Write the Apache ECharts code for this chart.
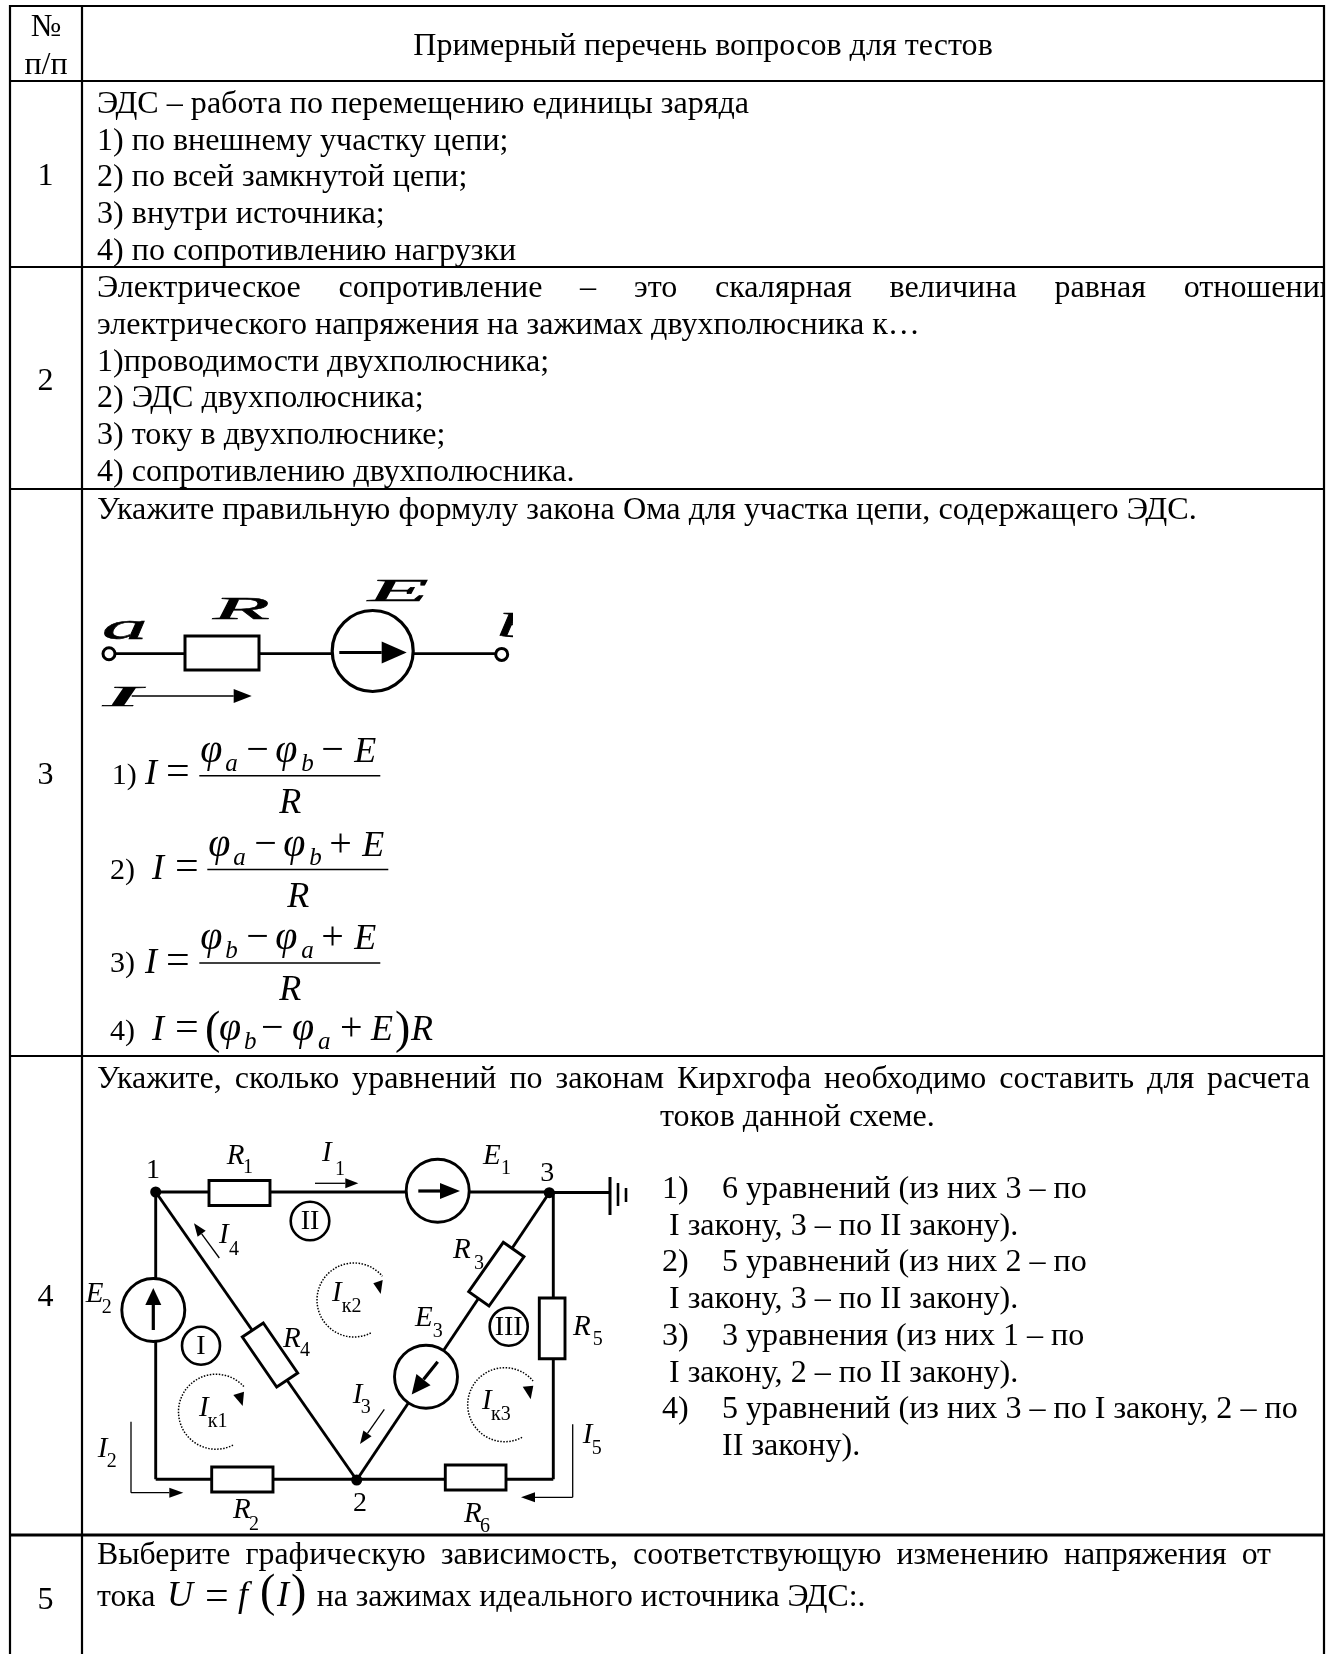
<!DOCTYPE html>
<html lang="ru">
<head>
<meta charset="UTF-8">
<title>Примерный перечень вопросов для тестов</title>
<script src="https://cdn.jsdelivr.net/npm/echarts@6/dist/echarts.min.js"></script>
<style>
html, body { margin: 0; padding: 0; background: #fff; }
#main { width: 1336px; height: 1654px; }
</style>
</head>
<body>
<div id="main"></div>
<script>
// table text
const headerNumber = ['№', 'п/п'];
const headerTitle = 'Примерный перечень вопросов для тестов';
const rowNumbers = ['1', '2', '3', '4', '5'];
const question1 = ['ЭДС – работа по перемещению единицы заряда', '1) по внешнему участку цепи;', '2) по всей замкнутой цепи;', '3) внутри источника;', '4) по сопротивлению нагрузки'];
const question2Head = 'Электрическое сопротивление – это скалярная величина равная отношению';
const question2 = ['электрического напряжения на зажимах двухполюсника к…', '1)проводимости двухполюсника;', '2) ЭДС двухполюсника;', '3) току в двухполюснике;', '4) сопротивлению двухполюсника.'];
const question3 = 'Укажите правильную формулу закона Ома для участка цепи, содержащего ЭДС.';
const question4Head = 'Укажите, сколько уравнений по законам Кирхгофа необходимо составить для расчета';
const question4Tail = 'токов данной схеме.';
const answers4 = [['1)', '6 уравнений (из них 3 – по'], ['', 'I закону, 3 – по II закону).'], ['2)', '5 уравнений (из них 2 – по'], ['', 'I закону, 3 – по II закону).'], ['3)', '3 уравнения (из них 1 – по'], ['', 'I закону, 2 – по II закону).'], ['4)', '5 уравнений (из них 3 – по I закону, 2 – по'], ['', 'II закону).']];
const question5Head = 'Выберите графическую зависимость, соответствующую изменению напряжения от';
const question5Start = 'тока';
const question5End = 'на зажимах идеального источника ЭДС:.';

// formula parts: first subscript, sign, second subscript, sign
const fractionParts = [['a', '−', 'b', '−'], ['a', '−', 'b', '+'], ['b', '−', 'a', '+']];

// table rules
const colEdges = [10, 82, 1324];
const rowEdges = [6, 81, 267, 489, 1056, 1535];
const pageBottom = 1654;

// row 3 schematic
const seriesWires = [[109, 653.7, 501.7, 653.7]];
const seriesResistor = [[185, 636, 259, 636, 259, 670, 185, 670]];
const seriesSource = [[372.7, 651, 40.5]];
const seriesTerminals = [[109, 653.7, 6], [501.7, 654.4, 6]];

// row 4 circuit
const circuitWires = [
  [155.7, 1192, 549.3, 1192], [549.3, 1192.5, 610, 1192.5], [155.7, 1192, 155.7, 1479.3], [155.7, 1479.3, 553.3, 1479.3],
  [553.3, 1192, 553.3, 1479.3], [155.7, 1192, 356.7, 1480], [356.7, 1480, 549.3, 1192.7]
];
const groundBars = [[610, 1177, 610, 1215, 3], [618, 1183, 618, 1206, 2.6], [626, 1188, 626, 1202, 2.6]];
const circuitResistors = [
  [209, 1180.5, 270, 1180.5, 270, 1205.5, 209, 1205.5],
  [211.7, 1467, 273, 1467, 273, 1492, 211.7, 1492],
  [445.3, 1465, 506, 1465, 506, 1490, 445.3, 1490],
  [539.3, 1298, 565, 1298, 565, 1358.7, 539.3, 1358.7],
  [263.3, 1323, 297.7, 1373, 276.7, 1387, 242.3, 1337],
  [503.3, 1242.3, 524, 1256.7, 489, 1306, 468.7, 1291.7]
];
const circuitSources = [[153.3, 1310, 31.5], [437.7, 1190.7, 31.5], [426, 1376.7, 31.5]];
const loopCircles = [[201, 1345.7, 19, 'I'], [310, 1221, 19.3, 'II'], [508.7, 1326.7, 19, 'III']];
const nodes = [[155.7, 1192], [356.7, 1480], [549.3, 1192.7]];
// x1, y1, x2, y2, line width, head length, head half width
const arrows = [
  [339.3, 652.5, 406.7, 652.5, 3.2, 25, 11], [131.7, 696, 251.7, 696, 1.5, 18, 7],
  [153.3, 1330, 153.3, 1288, 3.2, 17, 8], [418.3, 1191, 460, 1191, 3.2, 20, 8], [437.7, 1361.7, 411.7, 1394.5, 3.2, 19, 9],
  [315, 1183.3, 358.3, 1183.3, 1.3, 13, 5], [219.3, 1258, 194, 1223.3, 1.3, 13, 5], [384.3, 1409.3, 360, 1444, 1.3, 13, 5],
  [131, 1492.7, 183.3, 1492.7, 1.3, 14, 5], [572.7, 1497.3, 521, 1497.3, 1.3, 14, 5]
];
const thinLines = [[131, 1421.7, 131, 1492.7], [572.7, 1424.3, 572.7, 1497.3]];
// loop current arcs: cx, cy, r, start deg, end deg, then head tip and base points
const loopArcs = [
  [216, 1411.7, 37.5, 63, 320, 242.7, 1406, 233.3, 1395, 244, 1391.7],
  [354, 1300, 37, 63, 320, 380.7, 1294, 373.3, 1283.3, 382.7, 1280],
  [504.7, 1404.7, 37, 62, 320, 530.7, 1399.3, 522.7, 1386.7, 533.3, 1385.7]
];
// letter, subscript, x, baseline, subscript x, subscript baseline
const circuitLabels = [
  ['R', '1', 226.7, 1164, 243, 1172.7], ['I', '1', 322, 1160.7, 335, 1175], ['E', '1', 483, 1164, 501, 1174],
  ['I', '4', 219, 1242.7, 229, 1255], ['E', '2', 85.7, 1301.7, 101.7, 1312.7], ['R', '4', 283, 1346.7, 300, 1356],
  ['I', 'к1', 199, 1416, 207.7, 1427], ['I', 'к2', 332, 1300.7, 341.7, 1312], ['I', 'к3', 482, 1409, 491, 1420],
  ['I', '3', 352.7, 1402.7, 360.7, 1413], ['I', '2', 97.7, 1456.7, 106.7, 1467], ['I', '5', 582.7, 1442.7, 591.7, 1454],
  ['R', '2', 233, 1518, 249, 1530], ['R', '3', 453, 1258, 474, 1269], ['E', '3', 415, 1326, 432.7, 1336.7],
  ['R', '5', 573, 1335, 592.7, 1345], ['R', '6', 464, 1521.7, 480, 1531.7]
];
const nodeLabels = [['1', 153, 1178], ['2', 360, 1510.7], ['3', 547.3, 1180.7]];

const BODY = 32.1;
const LAST_ROW = 31.8;
const LEAD = 36.7;
const TEXT_LEFT = 97;
const FAMILY = '"Liberation Serif"';

const items = [];
const measureCtx = document.createElement('canvas').getContext('2d');
function textWidth(s, size) {
  measureCtx.font = size + 'px ' + FAMILY;
  return measureCtx.measureText(s).width;
}
function addText(text, x, y, size, opt) {
  items.push(Object.assign({ kind: 'text', text: text, x: x, y: y, size: size }, opt));
}
function addLine(p, w) { items.push({ kind: 'line', pts: p, w: w }); }
function addPoly(p, fill, w) { items.push({ kind: 'poly', pts: p, fill: fill, w: w }); }
function addCircle(c, fill, w) { items.push({ kind: 'circle', c: c, fill: fill, w: w }); }
// stretch the gaps so the words fill the line up to a given end, or to where the last word starts
function justified(line, baseY, left, right, size, lastStart) {
  const words = line.split(' ');
  const measured = lastStart ? words.slice(0, -1) : words;
  const used = measured.reduce((s, w) => s + textWidth(w, size), 0);
  const gap = ((lastStart || right) - left - used) / (words.length - 1);
  let x = left;
  words.forEach(w => {
    addText(w, x, baseY, size, {});
    x += textWidth(w, size) + gap;
  });
}

// row 3 schematic
seriesWires.forEach(w => addLine(w, 2.8));
seriesResistor.forEach(p => addPoly(p, '#fff', 3));
seriesSource.forEach(c => addCircle(c, '#fff', 3.2));
seriesTerminals.forEach(c => addCircle(c, '#fff', 3));
addText('a', 102, 639, 38, { italic: true, sx: 2.4, heavy: 0.5 });
addText('R', 213, 619, 31, { italic: true, sx: 3, heavy: 0.5 });
addText('E', 368, 601, 32, { italic: true, sx: 3.1, heavy: 0.5 });
addText('b', 497, 637, 34, { italic: true, sx: 2.4, heavy: 0.5 });
addText('I', 103, 706, 29, { italic: true, sx: 3.9, heavy: 0.5 });
addPoly([513, 606, 570, 606, 570, 643, 513, 643], '#fff', 0);

// row 4 circuit
circuitWires.forEach(w => addLine(w, 2.9));
groundBars.forEach(b => addLine(b.slice(0, 4), b[4]));
circuitResistors.forEach(p => addPoly(p, '#fff', 2.9));
circuitSources.forEach(c => addCircle(c, '#fff', 2.9));
loopCircles.forEach(c => {
  addCircle(c.slice(0, 3), '#fff', 2.6);
  addText(c[3], c[0], c[1] + 8, 28, { align: 'center' });
});
nodes.forEach(n => addCircle([n[0], n[1], 5.5], '#000', 0));
thinLines.forEach(l => addLine(l, 1.3));
arrows.forEach(a => {
  const len = Math.hypot(a[2] - a[0], a[3] - a[1]);
  const ux = (a[2] - a[0]) / len, uy = (a[3] - a[1]) / len;
  const bx = a[2] - ux * a[5], by = a[3] - uy * a[5];
  addLine([a[0], a[1], bx, by], a[4]);
  addPoly([a[2], a[3], bx - uy * a[6], by + ux * a[6], bx + uy * a[6], by - ux * a[6]], '#000', 0);
});
loopArcs.forEach(a => {
  items.push({ kind: 'arc', a: a });
  addPoly(a.slice(5), '#000', 0);
});
circuitLabels.forEach(l => {
  addText(l[0], l[2], l[3], 29, { italic: true });
  addText(l[1], l[4], l[5], 20, {});
});
nodeLabels.forEach(l => addText(l[0], l[1], l[2], 28, { align: 'center' }));

// header
addText(headerNumber[0], 46, 36, BODY, { align: 'center' });
addText(headerNumber[1], 46, 73.7, BODY, { align: 'center' });
addText(headerTitle, 703, 55, BODY, { align: 'center' });
[185, 390, 784, 1306, 1609].forEach((y, i) => addText(rowNumbers[i], 45.5, y, BODY, { align: 'center' }));

// questions
question1.forEach((s, i) => addText(s, TEXT_LEFT, 113 + i * LEAD, BODY));
justified(question2Head, 297, TEXT_LEFT, 0, BODY, 1183.7);
question2.forEach((s, i) => addText(s, TEXT_LEFT, 334 + i * LEAD, BODY));
addPoly([1325, 270, 1336, 270, 1336, 320, 1325, 320], '#fff', 0);
addText(question3, TEXT_LEFT, 519, BODY + 0.1);
justified(question4Head, 1088, TEXT_LEFT, 1310, BODY);
addText(question4Tail, 660, 1125.5, BODY);
answers4.forEach((a, i) => {
  const y = 1198 + i * LEAD;
  if (a[0]) addText(a[0], 662, y, BODY);
  addText(a[1], a[0] || i === 7 ? 722 : 669, y, BODY);
});
justified(question5Head, 1564, TEXT_LEFT, 1271, LAST_ROW);
addText(question5Start, TEXT_LEFT, 1606, LAST_ROW);
addText('U', 167, 1606, 36, { italic: true });
addText('=', 205, 1609, 42, {});
addText('f', 238, 1606, 36, { italic: true });
addText('(', 260, 1606, 46, {});
addText('I', 277, 1606, 36, { italic: true });
addText(')', 291, 1606, 46, {});
addText(question5End, 316.7, 1606, LAST_ROW);

// formulas
const F = 36, FG = 40, FS = 25;
const fracX = [199.3, 207.3, 199.3];
const fracBar = [775.7, 869.6, 963];
const fracEq = [[111.7, 145, 166, 784], [110, 152, 175, 879], [110, 145, 166, 972.4]];
const fracNames = ['1)', '2)', '3)'];
fractionParts.forEach((p, i) => {
  const x = fracX[i], bar = fracBar[i], eq = fracEq[i], top = bar - 14;
  addText(fracNames[i], eq[0], eq[3], 30, {});
  addText('I', eq[1], eq[3], F, { italic: true });
  addText('=', eq[2], eq[3], 42, {});
  addLine([x, bar, x + 181, bar], 1.5);
  addText('φ', x + 1, top, FG, { italic: true });
  addText(p[0], x + 26, top + 9, FS, { italic: true });
  addText(p[1], x + 47, top, FG, {});
  addText('φ', x + 76, top, FG, { italic: true });
  addText(p[2], x + 102, top + 9, FS, { italic: true });
  addText(p[3], x + 122, top, FG, {});
  addText('E', x + 155, top, F, { italic: true });
  addText('R', x + 91, bar + 37, F, { italic: true, align: 'center' });
});
addText('4)', 110, 1040, 30, {});
addText('I', 152, 1040, F, { italic: true });
addText('=', 175, 1040, 42, {});
addText('(', 205, 1043, 46, {});
addText('φ', 219, 1040, FG, { italic: true });
addText('b', 244, 1049, FS, { italic: true });
addText('−', 261, 1040, FG, {});
addText('φ', 292, 1040, FG, { italic: true });
addText('a', 318, 1049, FS, { italic: true });
addText('+', 340, 1040, FG, {});
addText('E', 371, 1040, F, { italic: true });
addText(')', 395, 1043, 46, {});
addText('R', 411, 1040, F, { italic: true });

// table rules go last so they sit on top of the clipped word
const ruleLeft = colEdges[0], ruleRight = colEdges[2];
rowEdges.forEach((y, i) => addLine([ruleLeft, y, ruleRight, y], i === 5 ? 3 : 2.2));
colEdges.forEach(x => addLine([x, rowEdges[0] - 1, x, pageBottom], 2.2));

function renderOne(params, api) {
  const it = items[params.dataIndex];
  const at = (x, y) => api.coord([x, y]);
  if (it.kind === 'line') {
    const a = at(it.pts[0], it.pts[1]), b = at(it.pts[2], it.pts[3]);
    return { type: 'line', shape: { x1: a[0], y1: a[1], x2: b[0], y2: b[1] }, style: { stroke: '#000', lineWidth: it.w } };
  }
  if (it.kind === 'poly') {
    const pts = [];
    for (let i = 0; i < it.pts.length; i += 2) pts.push(at(it.pts[i], it.pts[i + 1]));
    return { type: 'polygon', shape: { points: pts }, style: { fill: it.fill, stroke: it.w ? '#000' : null, lineWidth: it.w } };
  }
  if (it.kind === 'circle') {
    const c = at(it.c[0], it.c[1]);
    return { type: 'circle', shape: { cx: c[0], cy: c[1], r: it.c[2] }, style: { fill: it.fill, stroke: it.w ? '#000' : null, lineWidth: it.w } };
  }
  if (it.kind === 'arc') {
    const c = at(it.a[0], it.a[1]);
    return {
      type: 'arc',
      shape: { cx: c[0], cy: c[1], r: it.a[2], startAngle: it.a[3] * Math.PI / 180, endAngle: it.a[4] * Math.PI / 180, clockwise: true },
      style: { fill: null, stroke: '#000', lineWidth: 1.5, lineDash: [1.5, 1.5] }
    };
  }
  const p = at(it.x, it.y);
  return {
    type: 'text',
    x: p[0], y: p[1],
    scaleX: it.sx || 1,
    style: {
      text: it.text,
      x: 0, y: -0.26 * it.size,
      font: (it.italic ? 'italic ' : '') + it.size + 'px ' + FAMILY,
      fill: '#000',
      stroke: it.heavy ? '#000' : null,
      lineWidth: it.heavy || 0,
      textAlign: it.align || 'left',
      textVerticalAlign: 'middle'
    }
  };
}

const chart = echarts.init(document.getElementById('main'));
chart.setOption({
  animation: false,
  backgroundColor: '#fff',
  grid: { left: 0, right: 0, top: 0, bottom: 0 },
  xAxis: { type: 'value', min: 0, max: 1336, show: false },
  yAxis: { type: 'value', min: 0, max: pageBottom, inverse: true, show: false },
  series: [{
    type: 'custom',
    silent: true,
    clip: false,
    progressive: 0,
    renderItem: renderOne,
    data: items.map((_, i) => [i, 0])
  }]
});
</script>
</body>
</html>
